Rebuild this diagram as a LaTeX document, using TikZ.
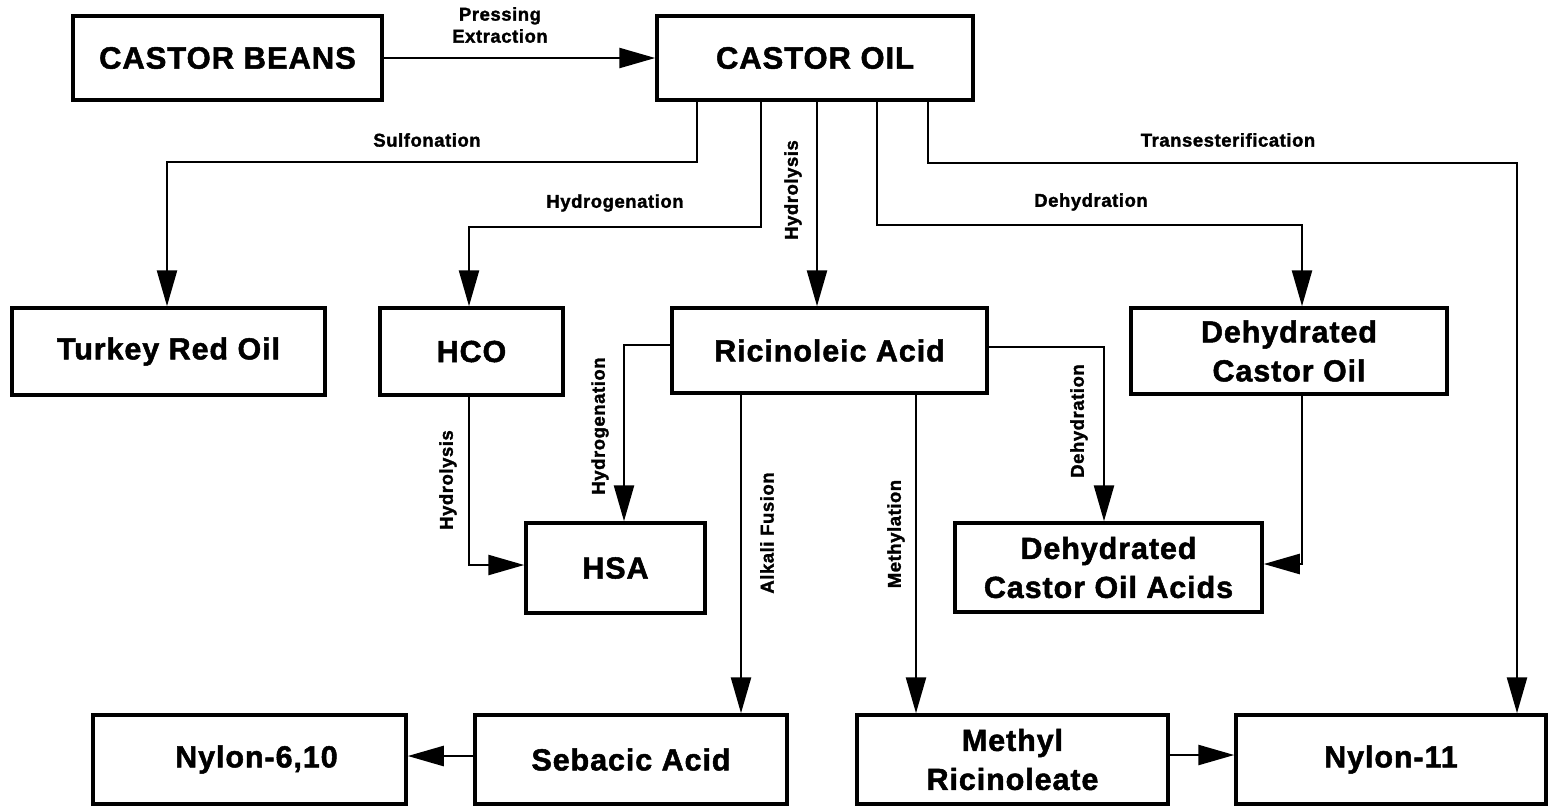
\documentclass[tikz,border=0pt]{standalone}
\usepackage{fontspec}
\setmainfont{Liberation Sans}[BoldFeatures={FakeBold=1.6, LetterSpace=3}]
\usetikzlibrary{arrows.meta}
\tikzset{
  box/.style={draw, line width=3.5pt, inner sep=0pt, align=center,
    font=\bfseries\fontsize{30.5}{39}\selectfont},
  bigbox/.style={box, font=\bfseries\fontsize{31}{38}\selectfont},
  conn/.style={line width=2.5pt, -{Triangle[length=36pt,width=20pt]}},
  lbl/.style={font=\bfseries\fontsize{18.5}{22}\selectfont, inner sep=0pt, align=center},
}
\begin{document}
\begin{tikzpicture}[x=1pt,y=-1pt]
\useasboundingbox (0,0) rectangle (1549,807);
% boxes
\node[bigbox, minimum width=309pt, minimum height=84pt] (beans) at (227.5,58) {CASTOR BEANS};
\node[bigbox, minimum width=316pt, minimum height=84pt] (oil) at (815,58) {CASTOR OIL};
\node[box, minimum width=313pt, minimum height=87pt] (turkey) at (168.5,351.5) {Turkey Red Oil};
\node[box, minimum width=183pt, minimum height=87pt] (hco) at (471.5,351.5) {HCO};
\node[box, minimum width=315pt, minimum height=85pt] (ric) at (829.5,350.5) {Ricinoleic Acid};
\node[box, minimum width=316pt, minimum height=86pt] (dco) at (1289,351) {Dehydrated\\Castor Oil};
\node[box, minimum width=179pt, minimum height=90pt] (hsa) at (615.5,568) {HSA};
\node[box, minimum width=307pt, minimum height=89pt] (dcoa) at (1108.5,567.5) {Dehydrated\\Castor Oil Acids};
\node[box, minimum width=313pt, minimum height=89pt] (n610) at (249.5,759.5) {\hspace*{14pt}Nylon-6,10};
\node[box, minimum width=312pt, minimum height=89pt] (seb) at (631,759.5) {Sebacic Acid};
\node[box, minimum width=311pt, minimum height=89pt] (methyl) at (1012.5,759.5) {Methyl\\Ricinoleate};
\node[box, minimum width=310pt, minimum height=89pt] (n11) at (1391,759.5) {Nylon-11};
% labels
\node[lbl] (press) at (500,25) {Pressing\\Extraction};
\node[lbl] (l1) at (427,140) {Sulfonation};
\node[lbl] (l2) at (615,203) {Hydrogenation};
\node[lbl] (l3) at (1228,140) {Transesterification};
\node[lbl] (l4) at (1091,202) {Dehydration};
\node[lbl, rotate=90] (l5) at (793,190) {Hydrolysis};
\node[lbl, rotate=90] (l6) at (448,480) {Hydrolysis};
\node[lbl, rotate=90] (l7) at (600,426) {Hydrogenation};
\node[lbl, rotate=90] (l8) at (767,533) {Alkali Fusion};
\node[lbl, rotate=90] (l9) at (896,534) {Methylation};
\node[lbl, rotate=90] (l10) at (1079,421) {Dehydration};
% bend coordinates
\coordinate (c1) at (697,162);
\coordinate (c1b) at (167,162);
\coordinate (c2) at (761,227);
\coordinate (c2b) at (469,227);
\coordinate (c3) at (817,200);
\coordinate (c4) at (877,225);
\coordinate (c4b) at (1302,225);
\coordinate (c5) at (928,163);
\coordinate (c5b) at (1517,163);
\coordinate (h1) at (469,565);
\coordinate (r1) at (624,345);
\coordinate (r2) at (1104,347);
\coordinate (d1) at (1302,564);
\coordinate (a1) at (741,550);
\coordinate (m1) at (916,550);
\coordinate (s2) at (440,756);
\coordinate (s3) at (1200,755);
% connectors
\draw[conn] (beans.east) -- (oil.west);
\draw[conn] (c1 |- oil.south) -- (c1) -- (c1b) -- (c1b |- turkey.north);
\draw[conn] (c2 |- oil.south) -- (c2) -- (c2b) -- (c2b |- hco.north);
\draw[conn] (c3 |- oil.south) -- (c3 |- ric.north);
\draw[conn] (c4 |- oil.south) -- (c4) -- (c4b) -- (c4b |- dco.north);
\draw[conn] (c5 |- oil.south) -- (c5) -- (c5b) -- (c5b |- n11.north);
\draw[conn] (h1 |- hco.south) -- (h1) -- (h1 -| hsa.west);
\draw[conn] (r1 -| ric.west) -- (r1) -- (r1 |- hsa.north);
\draw[conn] (r2 -| ric.east) -- (r2) -- (r2 |- dcoa.north);
\draw[conn] (d1 |- dco.south) -- (d1) -- (d1 -| dcoa.east);
\draw[conn] (a1 |- ric.south) -- (a1 |- seb.north);
\draw[conn] (m1 |- ric.south) -- (m1 |- methyl.north);
\draw[conn] (s2 -| seb.west) -- (s2 -| n610.east);
\draw[conn] (s3 -| methyl.east) -- (s3 -| n11.west);
\end{tikzpicture}
\end{document}
